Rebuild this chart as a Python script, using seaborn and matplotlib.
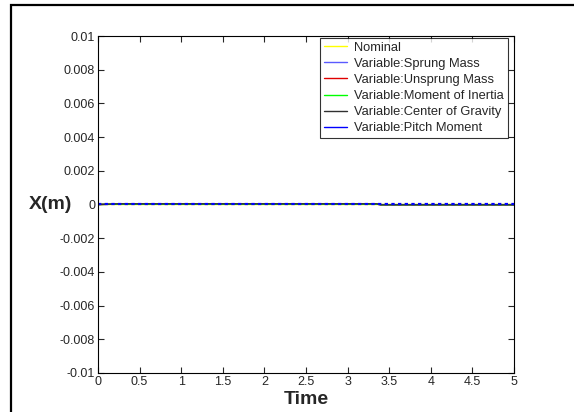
import numpy as np
import pandas as pd
import matplotlib
matplotlib.use("Agg")
import matplotlib.pyplot as plt
import seaborn as sns
from matplotlib.patches import Rectangle

# data (all responses stay essentially at zero)
time = [0.0, 0.25, 3.35, 3.4, 5.0]
nominal = [0.0, 0.0, 0.0, 0.0, 0.0]
sprung_mass = [0.0, 0.00002, 0.00002, -0.00001, -0.00001]
unsprung_mass = [0.0, 0.00002, 0.00002, -0.00001, -0.00001]
moment_inertia = [0.0, 0.00002, 0.00002, -0.00001, -0.00001]
center_gravity = [0.0, 0.00004, 0.00004, -0.00002, -0.00002]
pitch_moment = [0.0, 0.0, 0.0, 0.0, 0.0]

series_names = ["Nominal", "Variable:Sprung Mass", "Variable:Unsprung Mass",
                "Variable:Moment of Inertia", "Variable:Center of Gravity",
                "Variable:Pitch Moment"]
series_values = [nominal, sprung_mass, unsprung_mass, moment_inertia,
                 center_gravity, pitch_moment]
colors = ["#ffff00", "#5a5aff", "#e00000", "#00ff00", "#303030", "#0000ff"]

yticks = [-0.01, -0.008, -0.006, -0.004, -0.002, 0, 0.002, 0.004, 0.006, 0.008, 0.01]
ytick_labels = ["-0.01", "-0.008", "-0.006", "-0.004", "-0.002", "0",
                "0.002", "0.004", "0.006", "0.008", "0.01"]
xticks = [0, 0.5, 1, 1.5, 2, 2.5, 3, 3.5, 4, 4.5, 5]
xtick_labels = ["0", "0.5", "1", "1.5", "2", "2.5", "3", "3.5", "4", "4.5", "5"]

df = pd.concat([pd.DataFrame({"Time": time, "X": v, "series": n})
                for n, v in zip(series_names, series_values)], ignore_index=True)

sns.set_style("white")
plt.rcParams["font.family"] = ["Liberation Sans", "DejaVu Sans"]

fig = plt.figure(figsize=(5.74, 4.12), dpi=100)
ax = fig.add_axes([0.1707, 0.0947, 0.7248, 0.8179])

# outer frame (only left and top edges visible)
fig.patches.append(Rectangle((11 / 574, -0.1), 1.2, 1 - 5 / 412 + 0.1,
                             transform=fig.transFigure, fill=False,
                             edgecolor="black", linewidth=1.6))

sns.lineplot(data=df, x="Time", y="X", hue="series", palette=colors,
             hue_order=series_names, ax=ax, linewidth=1.0, legend=True,
             estimator=None, sort=False)
lines = ax.get_lines()
lines[5].set_linestyle((0, (1.5, 1.5)))
lines[5].set_linewidth(1.6)

ax.set_xlim(0, 5)
ax.set_ylim(-0.01, 0.01)
ax.set_xticks(xticks)
ax.set_xticklabels(xtick_labels, fontsize=9)
ax.set_yticks(yticks)
ax.set_yticklabels(ytick_labels, fontsize=9)
ax.tick_params(direction="in", length=4, width=0.8, top=True, right=True,
               bottom=True, left=True, pad=2)
for s in ax.spines.values():
    s.set_color("black")
    s.set_linewidth(0.8)

ax.set_xlabel("Time", fontsize=14, fontweight="bold", labelpad=2)
ax.set_ylabel("X(m)", fontsize=14, fontweight="bold", rotation=0,
              ha="center", va="center")
ax.yaxis.set_label_coords(-0.115, 0.5)

leg = ax.legend(loc="upper right", bbox_to_anchor=(0.985, 0.995),
                fontsize=9.3, frameon=True, fancybox=False,
                edgecolor="black", borderpad=0.3, labelspacing=0.32,
                handlelength=1.8, handletextpad=0.55, borderaxespad=0.0)
leg.get_frame().set_linewidth(0.8)
for h in leg.get_lines():
    h.set_linestyle("-")
    h.set_linewidth(1.0)

fig.savefig("out.png", dpi=100)
